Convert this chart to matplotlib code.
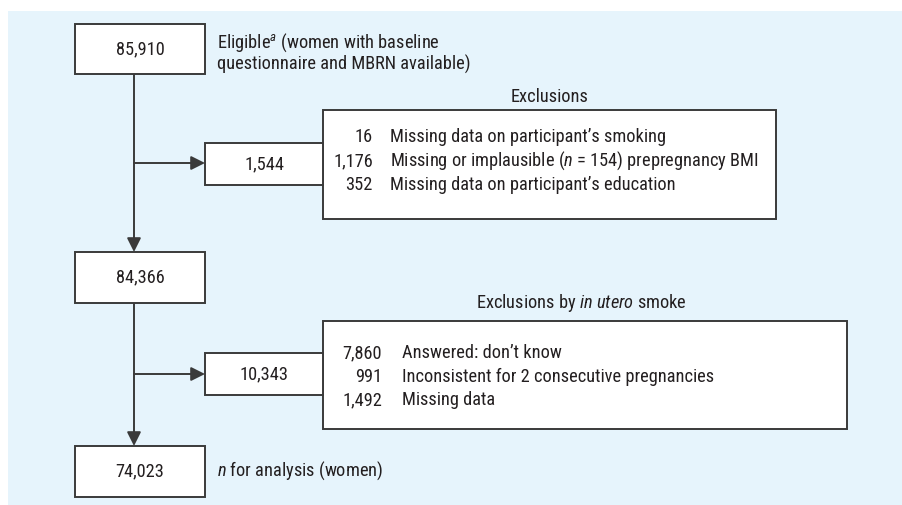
import matplotlib
matplotlib.use("Agg")
import matplotlib.pyplot as plt
from matplotlib.patches import Rectangle, FancyArrowPatch

plt.rcParams['font.family'] = ['Roboto Condensed', 'DejaVu Sans']
plt.rcParams['mathtext.fontset'] = 'custom'
plt.rcParams['mathtext.rm'] = 'Roboto Condensed'
plt.rcParams['mathtext.it'] = 'Roboto Condensed:italic'
plt.rcParams['mathtext.bf'] = 'Roboto Condensed:bold'

# ---- data ----
main_counts = [85910, 84366, 74023]
excluded_counts = [1544, 10343]
excl1_counts = [16, 1176, 352]
excl1_labels = ["Missing data on participant\u2019s smoking",
                "Missing or implausible ($\\it{n}$ = 154) prepregnancy BMI",
                "Missing data on participant\u2019s education"]
excl2_counts = [7860, 991, 1492]
excl2_labels = ["Answered: don\u2019t know",
                "Inconsistent for 2 consecutive pregnancies",
                "Missing data"]
excl_titles = ["Exclusions", "Exclusions by $\\it{in\\ utero}$ smoke"]

# ---- layout (pixel coords) ----
W, H = 902, 505
fig = plt.figure(figsize=(W / 100, H / 100), dpi=100)
ax = fig.add_axes([0, 0, 1, 1])
ax.set_xlim(0, W)
ax.set_ylim(H, 0)
ax.axis('off')

bg = '#e6f4fc'
ec = '#3a3a3a'
tc = '#231f20'
fs = 13.2

ax.add_patch(Rectangle((8, 11), W - 8, H - 11, facecolor=bg, edgecolor='none', zorder=0))

def box(x0, y0, x1, y1):
    ax.add_patch(Rectangle((x0, y0), x1 - x0, y1 - y0, facecolor='white',
                           edgecolor=ec, lw=1.4, zorder=2))

main_y = [(24, 74), (252, 303), (446, 497)]
mx0, mx1 = 75, 205
cx = 134
for (y0, y1), n in zip(main_y, main_counts):
    box(mx0, y0, mx1, y1)
    ax.text((mx0 + mx1) / 2, (y0 + y1) / 2, f"{n:,}", ha='center', va='center',
            fontsize=fs, color=tc, zorder=3)

# side boxes
side_y = [(143, 185), (353, 395)]
sx0, sx1 = 205, 323
big = [(323, 110, 776, 219), (323, 321, 847, 429)]
rows_y = [[137, 161, 185], [353, 377, 400]]
num_right = [373, 382]
lab_left = [390, 402]
title_pos = [(550, 97), (581, 303)]
arrow_y = [163, 374]
excl_counts = [excl1_counts, excl2_counts]
excl_labels = [excl1_labels, excl2_labels]

for i in range(2):
    bx0, by0, bx1, by1 = big[i]
    box(bx0, by0, bx1, by1)
    y0, y1 = side_y[i]
    box(sx0, y0, sx1, y1)
    ax.text((sx0 + sx1) / 2, (y0 + y1) / 2, f"{excluded_counts[i]:,}", ha='center',
            va='center', fontsize=fs, color=tc, zorder=3)
    for ry, c, lab in zip(rows_y[i], excl_counts[i], excl_labels[i]):
        ax.text(num_right[i], ry, f"{c:,}", ha='right', va='center', fontsize=fs,
                color=tc, zorder=3)
        ax.text(lab_left[i], ry, lab, ha='left', va='center', fontsize=fs,
                color=tc, zorder=3)
    ax.text(title_pos[i][0], title_pos[i][1], excl_titles[i], ha='center', va='center',
            fontsize=fs, color=tc, zorder=3)
    # horizontal arrow
    ax.add_patch(FancyArrowPatch((cx, arrow_y[i]), (sx0, arrow_y[i]),
                                 arrowstyle='-|>,head_length=7,head_width=3.5',
                                 mutation_scale=1.2, lw=1.4, color=ec,
                                 shrinkA=0, shrinkB=0, zorder=1))

# vertical arrows
for (ya, yb) in [(main_y[0][1], main_y[1][0]), (main_y[1][1], main_y[2][0])]:
    ax.add_patch(FancyArrowPatch((cx, ya), (cx, yb),
                                 arrowstyle='-|>,head_length=7,head_width=3.5',
                                 mutation_scale=1.2, lw=1.4, color=ec,
                                 shrinkA=0, shrinkB=0, zorder=1))

# side notes
ax.text(217, 43, "Eligible$^{\\it{a}}$ (women with baseline", ha='left', va='center',
        fontsize=fs, color=tc)
ax.text(217, 64, "questionnaire and MBRN available)", ha='left', va='center',
        fontsize=fs, color=tc)
ax.text(217, 471, "$\\it{n}$ for analysis (women)", ha='left', va='center',
        fontsize=fs, color=tc)

fig.savefig("out.png", dpi=100)
